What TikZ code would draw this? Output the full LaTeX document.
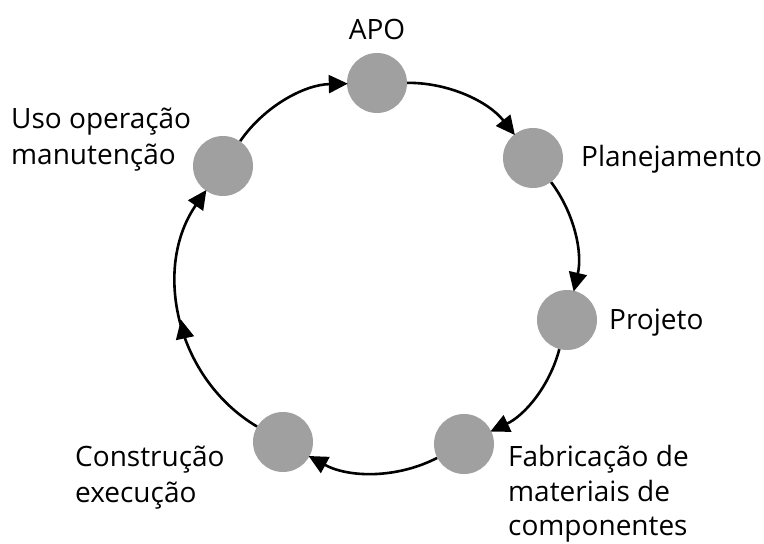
\documentclass[tikz,border=0pt]{standalone}
\usepackage{fontspec}
\setmainfont{Open Sans}
\usetikzlibrary{arrows.meta,decorations.markings}
\definecolor{dotgray}{RGB}{160,160,160}
\begin{document}
\begin{tikzpicture}[x=1pt,y=1pt,
  stage/.style={circle,fill=dotgray,minimum size=60pt,inner sep=0pt},
  lbl/.style={font=\fontsize{28}{36}\selectfont,inner sep=0pt,align=left,anchor=base west},
  flow/.style={line width=2.6pt,-{Triangle[length=19pt,width=18pt]},shorten >=-1pt},
  midarrow/.style={postaction={decorate},decoration={markings,mark=at position 0.5 with {\arrow{Triangle[length=19pt,width=18pt]}}}}]
\useasboundingbox (0,0) rectangle (764,544);
\node[stage] (apo) at (377,461) {};
\node[stage] (plan) at (533,386) {};
\node[stage] (proj) at (567,224) {};
\node[stage] (fab) at (464,100) {};
\node[stage] (cons) at (283,102) {};
\node[stage] (uso) at (223,378) {};

\node[lbl,anchor=base] (tapo) at (377,504) {APO};
\node[lbl] (tplan) at (581,377) {Planejamento};
\node[lbl] (tproj) at (609,214) {Projeto};
\node[lbl,font=\fontsize{28}{34.5}\selectfont] (tfab) at (508,8) {Fabricação de\\materiais de\\componentes};
\node[lbl] (tcons) at (75,41) {Construção\\execução};
\node[lbl] (tuso) at (11,379) {Uso operação\\manutenção};

\draw[flow] (apo) to[bend left=26,looseness=0.9] (plan);
\draw[flow] (plan) to[bend left=25,looseness=0.9] (proj);
\draw[flow] (proj) to[bend left=25,looseness=0.9] (fab);
\draw[flow] (fab) to[bend left=28,looseness=0.9] (cons);
\draw[flow,midarrow] (cons) to[bend left=47] (uso);
\draw[flow] (uso) to[bend left=27,looseness=0.9] (apo);
\end{tikzpicture}
\end{document}
